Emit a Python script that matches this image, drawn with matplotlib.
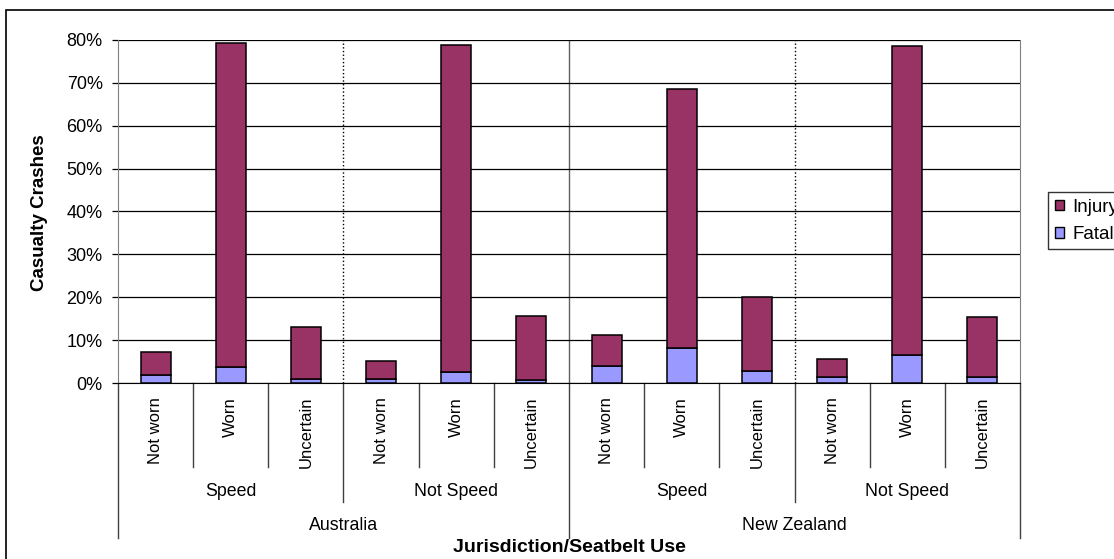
import matplotlib.pyplot as plt
from matplotlib.patches import Patch, Rectangle
from matplotlib.transforms import blended_transform_factory
import numpy as np

plt.rcParams['font.family'] = ['Liberation Sans', 'DejaVu Sans']

# data (percent of casualty crashes)
seatbelt = ['Not worn', 'Worn', 'Uncertain'] * 4
speed_groups = ['Speed', 'Not Speed', 'Speed', 'Not Speed']
jurisdictions = ['Australia', 'New Zealand']
fatal = [1.9, 3.8, 0.9, 0.9, 2.5, 0.8, 4.0, 8.1, 2.8, 1.5, 6.5, 1.5]
injury = [5.4, 75.5, 12.2, 4.2, 76.4, 14.9, 7.3, 60.4, 17.3, 4.1, 72.1, 13.8]

W, H = 1114, 559
fig = plt.figure(figsize=(W / 100, H / 100), dpi=100)
ax = fig.add_axes([118 / W, 1 - 383 / H, (1020 - 118) / W, (383 - 40) / H])

x = np.arange(len(seatbelt))
ax.bar(x, fatal, width=0.4, color='#9999FF', edgecolor='black', linewidth=1.1, zorder=3, label='Fatal')
ax.bar(x, injury, width=0.4, bottom=fatal, color='#993366', edgecolor='black', linewidth=1.1, zorder=3, label='Injury')

ax.set_xlim(-0.5, 11.5)
ax.set_ylim(0, 80)
ax.set_yticks(np.arange(0, 81, 10))
ax.set_yticklabels([f'{v}%' for v in range(0, 81, 10)], fontsize=13)
ax.yaxis.grid(True, color='black', linewidth=0.9, zorder=0)
ax.set_xticks([])
ax.tick_params(axis='y', length=4, width=0.9, pad=7)
ax.spines['top'].set_visible(False)
ax.spines['right'].set_color('#808080')
ax.spines['left'].set_color('#808080')
ax.spines['bottom'].set_color('black')

# separators inside plot
for xs, ls, col in [(2.5, ':', 'black'), (8.5, ':', 'black'), (5.5, '-', '#606060')]:
    ax.axvline(xs, linestyle=ls, color=col, linewidth=1.0, zorder=1)

fig.text(40 / W, 1 - 213 / H, 'Casualty Crashes', rotation=90, ha='center', va='center',
         fontsize=13.5, fontweight='bold')

# multi-level category axis, y in pixels below axis
trans = blended_transform_factory(ax.transData, ax.transAxes)
axh = 383 - 40


def py(p):
    return -(p - 383) / axh


sep_col = '#404040'
for i, lab in enumerate(seatbelt):
    ax.text(i, py(397), lab, rotation=90, ha='center', va='top', fontsize=12, transform=trans)
for b in range(13):
    xb = b - 0.5
    if b % 6 == 0:
        bottom = 538
    elif b % 3 == 0:
        bottom = 502
    else:
        bottom = 467
    ax.plot([xb, xb], [0, py(bottom)], color=sep_col, linewidth=1.0, transform=trans, clip_on=False)
for g, lab in enumerate(speed_groups):
    ax.text(g * 3 + 1, py(491), lab, ha='center', va='center', fontsize=12.8, transform=trans)
for j, lab in enumerate(jurisdictions):
    ax.text(j * 6 + 2.5, py(526), lab, ha='center', va='center', fontsize=12.8, transform=trans)
ax.text(5.5, py(548), 'Jurisdiction/Seatbelt Use', ha='center', va='center', fontsize=14,
        fontweight='bold', transform=trans)

# legend box runs past the right edge, as in the original
handles = [Patch(facecolor='#993366', edgecolor='black'), Patch(facecolor='#9999FF', edgecolor='black')]
fig.legend(handles, ['Injury', 'Fatal'], loc='upper left', bbox_to_anchor=(1048 / W, 1 - 192 / H),
           fontsize=13.5, frameon=True, fancybox=False, edgecolor='black', handlelength=0.5,
           handleheight=0.5, handletextpad=0.45, borderpad=0.35, labelspacing=0.55, borderaxespad=0)

# outer chart border
fig.patches.append(Rectangle((6 / W, -0.01), 1.02, 1 - 10 / H + 0.01, transform=fig.transFigure,
                             fill=False, edgecolor='black', linewidth=1.2))

fig.savefig('out.png', dpi=100)
